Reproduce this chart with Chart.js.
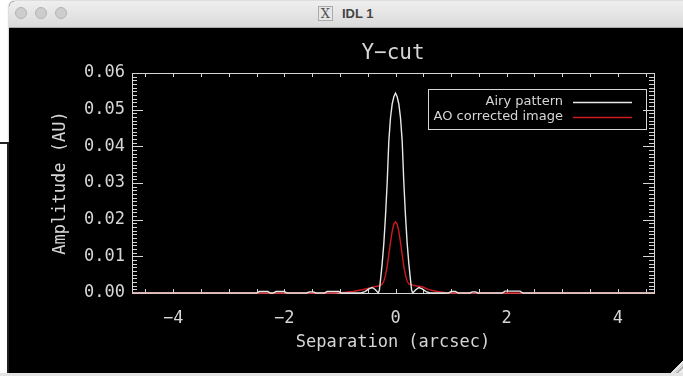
<!DOCTYPE html>
<html>
<head>
<meta charset="utf-8">
<script src="https://cdn.jsdelivr.net/npm/chart.js@4"></script>
<style>
  html, body { margin: 0; padding: 0; background: #fff; }
  body { width: 683px; height: 376px; overflow: hidden; position: relative; }
  .behind { position: absolute; left: -10px; top: 142px; width: 15px; height: 300px; border: 2px solid #222; background: #fff; }
  .win { position: absolute; left: 9px; top: 1px; width: 690px; height: 372px; background: #000;
         border-radius: 6px 6px 0 0; overflow: hidden; box-shadow: 0 0 2px rgba(0,0,0,0.5); }
  .titlebar { height: 26px; background: linear-gradient(#efefef, #dadada); border-bottom: 1px solid #a8a8a8; position: relative; }
  .dot { position: absolute; top: 6px; width: 12px; height: 12px; border-radius: 50%; background: #cdcdcd; border: 1px solid #b3b3b3; box-sizing: border-box; }
  .xicon { position: absolute; left: 309px; top: 5px; width: 15px; height: 15px; border: 1px solid #aaa; box-sizing: border-box;
           font: 13px "DejaVu Serif", serif; color: #555; text-align: center; line-height: 13px; background: #e6e6e6; }
  .wtitle { position: absolute; left: 333px; top: 5px; font: bold 13px "Liberation Sans", Arial, sans-serif; color: #444; }
  #wrap { position: absolute; left: 12px; top: 28px; width: 671px; height: 345px; }
  .grip { position: absolute; left: 671px; top: 360px; width: 12px; height: 13px;
          background: linear-gradient(135deg, #000 50%, #ddd 50%, #eee 60%, #999 62%, #eee 66%, #999 78%, #eee 82%); }
  .bottom { position: absolute; left: 0; top: 373px; width: 683px; height: 3px; background: #e4e4e4; }
</style>
</head>
<body>
<div class="behind"></div>
<div class="win">
  <div class="titlebar">
    <div class="dot" style="left:6px"></div>
    <div class="dot" style="left:26px"></div>
    <div class="dot" style="left:46px"></div>
    <div class="xicon">X</div>
    <div class="wtitle">IDL 1</div>
  </div>
</div>
<div id="wrap"><canvas id="plot" width="671" height="345"></canvas></div>
<div class="grip"></div>
<div class="bottom"></div>
<script>
// Y-cut through the PSF
const airyX = [-4.74, -2.5, -2.45, -2.3, -2.25, -2.2, -2.15, -2.0, -1.95, -1.6, -1.55, -1.48, -1.43, -1.28, -1.23, -1.02, -0.97,
  -0.62, -0.55, -0.48, -0.42, -0.36, -0.31, -0.29, -0.27, -0.24, -0.21, -0.18, -0.15, -0.12, -0.09, -0.06, -0.03,
  0, 0.03, 0.06, 0.09, 0.12, 0.15, 0.18, 0.21, 0.24, 0.27, 0.29, 0.31, 0.36, 0.42, 0.48, 0.55, 0.62,
  0.95, 1.0, 1.08, 1.13, 1.34, 1.38, 1.44, 1.48, 1.92, 1.97, 2.24, 2.29, 4.65];
const airyY = [0, 0, 0.0004, 0.0004, 0, 0, 0.0004, 0.0004, 0, 0, 0.0003, 0.0003, 0, 0, 0.0004, 0.0004, 0,
  0, 0.0004, 0.0011, 0.0015, 0.0009, 0, 0.0008, 0.0035, 0.0080, 0.0135, 0.0210, 0.0300, 0.0415, 0.0478, 0.0515, 0.0535,
  0.0545, 0.0535, 0.0515, 0.0478, 0.0415, 0.0300, 0.0210, 0.0135, 0.0080, 0.0035, 0.0008, 0, 0.0008, 0.0015, 0.0011, 0.0004, 0,
  0, 0.0004, 0.0004, 0, 0, 0.0003, 0.0003, 0, 0, 0.0005, 0.0005, 0, 0];

const aoX = [-4.74, -1.1, -1.0, -0.9, -0.76, -0.6, -0.46, -0.38, -0.3, -0.24, -0.21, -0.18, -0.15, -0.12, -0.09, -0.06, -0.03,
  0, 0.03, 0.06, 0.09, 0.12, 0.15, 0.18, 0.21, 0.24, 0.3, 0.38, 0.48, 0.6, 0.75, 0.9, 1.0, 4.65];
const aoY = [0, 0, 0.0001, 0.0002, 0.0004, 0.0009, 0.0014, 0.0017, 0.0019, 0.0024, 0.0032, 0.0048, 0.0072, 0.0105, 0.0138, 0.0168, 0.0188,
  0.0194, 0.0188, 0.0168, 0.0138, 0.0105, 0.0072, 0.0048, 0.0032, 0.0025, 0.0022, 0.0019, 0.0017, 0.0009, 0.0004, 0.0001, 0, 0];

const seriesNames = ['Airy pattern', 'AO corrected image'];
const seriesColors = ['#e8e8e8', '#cc1a1e'];

const xRange = [-4.74, 4.65];
const yRange = [0, 0.06];
const xMajorStep = 2, xMinorStep = 0.5;
const yMajorStep = 0.01, yMinorStep = 0.001;

const fg = '#d6d6d6';
const mono = "'DejaVu Sans Mono', monospace";

function toPoints(xs, ys) {
  return xs.map((x, i) => ({ x: x, y: ys[i] }));
}

function fmtX(v) {
  if (v === 0) return '0';
  return (v < 0 ? '\u2212' : '') + Math.abs(v);
}

// frame and IDL style ticks go under the curves, title and boxed legend on top
const idlFrame = {
  id: 'idlFrame',
  beforeDatasetsDraw(chart) {
    const ctx = chart.ctx;
    const a = chart.chartArea;
    const xs = chart.scales.x, ys = chart.scales.y;
    ctx.save();
    ctx.strokeStyle = fg;
    ctx.lineWidth = 1;
    ctx.strokeRect(Math.round(a.left) + 0.5, Math.round(a.top) + 0.5, Math.round(a.right - a.left), Math.round(a.bottom - a.top));

    ctx.beginPath();
    const nY = Math.round((yRange[1] - yRange[0]) / yMinorStep);
    const perMajor = Math.round(yMajorStep / yMinorStep);
    for (let i = 0; i <= nY; i++) {
      const py = Math.round(ys.getPixelForValue(yRange[0] + i * yMinorStep)) + 0.5;
      const len = (i % perMajor === 0) ? 11 : 5;
      ctx.moveTo(a.left, py); ctx.lineTo(a.left + len, py);
      ctx.moveTo(a.right, py); ctx.lineTo(a.right - len, py);
    }
    const first = Math.ceil(xRange[0] / xMinorStep), last = Math.floor(xRange[1] / xMinorStep);
    for (let i = first; i <= last; i++) {
      const px = Math.round(xs.getPixelForValue(i * xMinorStep)) + 0.5;
      ctx.moveTo(px, a.bottom); ctx.lineTo(px, a.bottom - 4);
      ctx.moveTo(px, a.top); ctx.lineTo(px, a.top + 4);
    }
    ctx.stroke();
    ctx.restore();
  },
  afterDraw(chart) {
    const ctx = chart.ctx;
    const a = chart.chartArea;
    ctx.save();
    ctx.fillStyle = fg;
    ctx.strokeStyle = fg;
    ctx.lineWidth = 1;
    ctx.font = "21px " + mono;
    ctx.textAlign = 'center';
    ctx.textBaseline = 'middle';
    ctx.fillText('Y\u2212cut', (a.left + a.right) / 2, a.top - 19);

    // legend
    const boxR = a.right - 8, boxT = a.top + 16, boxW = 218, boxH = 40;
    ctx.strokeRect(Math.round(boxR - boxW) + 0.5, Math.round(boxT) + 0.5, boxW, boxH);
    ctx.font = "13px 'DejaVu Sans', sans-serif";
    ctx.textAlign = 'right';
    ctx.lineWidth = 1.5;
    chart.data.datasets.forEach((ds, i) => {
      const ry = boxT + 13 + i * 15;
      ctx.fillStyle = fg;
      ctx.fillText(ds.label, boxR - 83, ry);
      ctx.strokeStyle = ds.borderColor;
      ctx.beginPath();
      ctx.moveTo(boxR - 73, Math.round(ry) + 0.5);
      ctx.lineTo(boxR - 14, Math.round(ry) + 0.5);
      ctx.stroke();
    });
    ctx.restore();
  }
};

const chart = new Chart(document.getElementById('plot'), {
  type: 'line',
  data: {
    datasets: [
      { label: seriesNames[0], data: toPoints(airyX, airyY), borderColor: seriesColors[0], clip: 3 },
      { label: seriesNames[1], data: toPoints(aoX, aoY), borderColor: seriesColors[1], clip: 3 }
    ]
  },
  options: {
    responsive: false,
    animation: false,
    devicePixelRatio: 1,
    layout: { padding: { top: 45, right: 29, left: 0, bottom: 0 } },
    elements: {
      line: { borderWidth: 1.4, tension: 0, fill: false },
      point: { radius: 0 }
    },
    plugins: {
      legend: { display: false },
      tooltip: { enabled: false },
      title: { display: false }
    },
    scales: {
      x: {
        type: 'linear',
        min: xRange[0], max: xRange[1],
        grid: { display: false, drawTicks: false },
        border: { display: false },
        afterFit(s) { s.height = 80; },
        ticks: {
          stepSize: xMajorStep, includeBounds: false, padding: 15,
          color: fg, font: { family: mono, size: 17 },
          maxRotation: 0, autoSkip: false,
          callback: v => fmtX(v)
        },
        title: {
          display: true, text: 'Separation (arcsec)', color: fg,
          font: { family: mono, size: 17 }, padding: { top: 0, bottom: 20 }
        }
      },
      y: {
        type: 'linear',
        min: yRange[0], max: yRange[1],
        grid: { display: false, drawTicks: false },
        border: { display: false },
        afterFit(s) { s.width = 120; },
        ticks: {
          stepSize: yMajorStep, padding: 7,
          color: fg, font: { family: mono, size: 17 },
          callback: v => v.toFixed(2)
        },
        title: {
          display: true, text: 'Amplitude (AU)', color: fg,
          font: { family: mono, size: 17 }, padding: { top: 38, bottom: 0 }
        }
      }
    }
  },
  plugins: [idlFrame]
});
</script>
</body>
</html>
